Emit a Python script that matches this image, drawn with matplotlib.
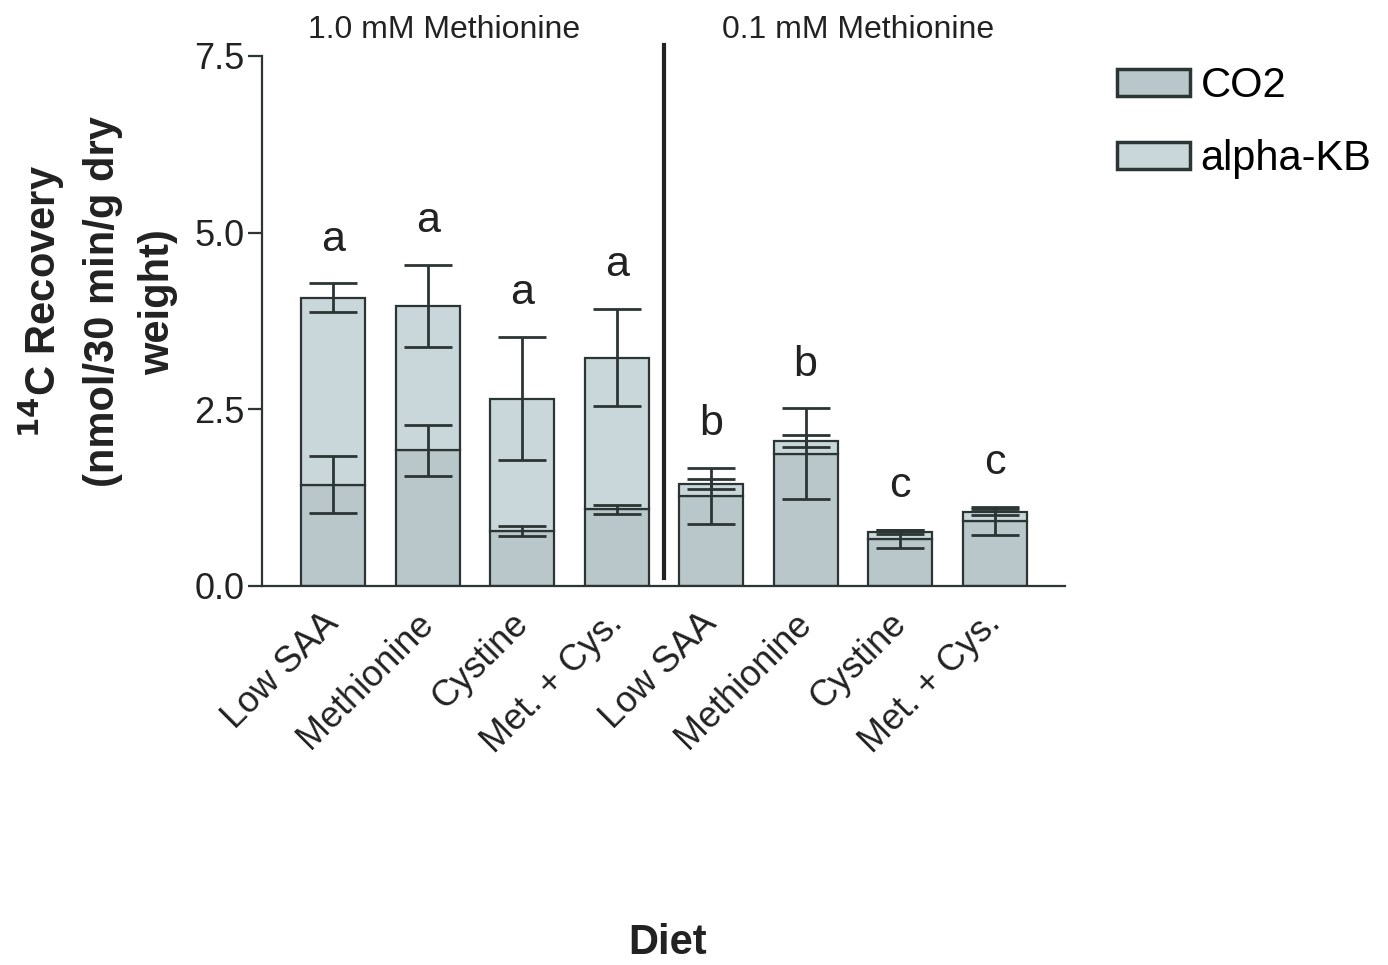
import numpy as np
import matplotlib
matplotlib.use("Agg")
import matplotlib.pyplot as plt
from matplotlib.transforms import ScaledTranslation

plt.rcParams['font.family'] = ['Liberation Sans', 'DejaVu Sans']

# datos
dietas = ["Low SAA", "Methionine", "Cystine", "Met. + Cys.",
          "Low SAA", "Methionine", "Cystine", "Met. + Cys."]
co2 = [1.43, 1.92, 0.78, 1.08, 1.27, 1.87, 0.66, 0.92]
co2_err = [0.40, 0.36, 0.07, 0.07, 0.40, 0.64, 0.13, 0.20]
total = [4.08, 3.96, 2.65, 3.23, 1.44, 2.05, 0.76, 1.04]
total_err = [0.20, 0.58, 0.87, 0.69, 0.07, 0.08, 0.03, 0.04]
letras = ["a", "a", "a", "a", "b", "b", "c", "c"]
grupos = ["1.0 mM Methionine", "0.1 mM Methionine"]

alpha_kb = [t - c for t, c in zip(total, co2)]
x = np.arange(len(dietas))
linea = '#2b3533'
texto = '#222222'

fig = plt.figure(figsize=(13.88, 9.65), dpi=100)
ax = fig.add_axes([0.189, 0.393, 0.578, 0.549])

ax.bar(x, co2, width=0.68, color='#b9c7cb', edgecolor=linea, linewidth=1.6, label='CO2')
ax.bar(x, alpha_kb, bottom=co2, width=0.68, color='#c9d7db', edgecolor=linea,
       linewidth=1.6, label='alpha-KB')
ax.errorbar(x, co2, yerr=co2_err, fmt='none', ecolor=linea, elinewidth=2, capsize=17, capthick=2)
ax.errorbar(x, total, yerr=total_err, fmt='none', ecolor=linea, elinewidth=2, capsize=17, capthick=2)

# letras de significancia encima de las barras de error
for xi, t, e, l in zip(x, total, total_err, letras):
    tope = max(t + e, co2[xi] + co2_err[xi])
    ax.text(xi, tope + 0.62, l, ha='center', va='center', fontsize=31, color=texto)

# linea divisoria entre los grupos
ax.plot([3.5, 3.5], [0.11, 7.65], color=texto, linewidth=3, clip_on=False)
ax.text(1.17, 7.87, grupos[0], ha='center', va='center', fontsize=23, color=texto)
ax.text(5.55, 7.87, grupos[1], ha='center', va='center', fontsize=23, color=texto)

ax.set_xlim(-0.75, 7.74)
ax.set_ylim(0, 7.5)
ax.set_yticks([0, 2.5, 5.0, 7.5])
ax.set_yticklabels(['0.0', '2.5', '5.0', '7.5'], fontsize=26, color=texto)
ax.set_xticks(x)
ax.set_xticklabels([])
# etiquetas del eje x giradas, algo corridas a la izquierda
desplazar = ax.get_xaxis_transform() + ScaledTranslation(-0.12, -0.2, fig.dpi_scale_trans)
for xi, d in zip(x, dietas):
    ax.text(xi, 0, d, transform=desplazar, rotation=45, ha='right', va='top',
            rotation_mode='anchor', fontsize=26, color=texto)
ax.tick_params(axis='x', length=0)
ax.tick_params(axis='y', length=10, width=1.6, color=linea, pad=3)
for s in ['top', 'right']:
    ax.spines[s].set_visible(False)
for s in ['left', 'bottom']:
    ax.spines[s].set_color(linea)
    ax.spines[s].set_linewidth(1.6)

fig.text(0.070, 0.687, '$\\mathbf{^{14}}$C Recovery\n(nmol/30 min/g dry\nweight)', fontsize=30,
         fontweight='bold', color=texto, rotation=90, ha='center', va='center',
         multialignment='center', linespacing=1.5)
fig.text(0.481, 1 - 943 / 965, 'Diet', fontsize=30, fontweight='bold', color=texto,
         ha='center', va='center')

ley = ax.legend(loc='upper left', bbox_to_anchor=(1.019, 1.052), frameon=False, fontsize=30,
                handlelength=1.75, handleheight=0.62, handletextpad=0.25, labelspacing=0.8)
for h in ley.legend_handles:
    h.set_linewidth(2.5)

fig.savefig('out.png', dpi=100)
